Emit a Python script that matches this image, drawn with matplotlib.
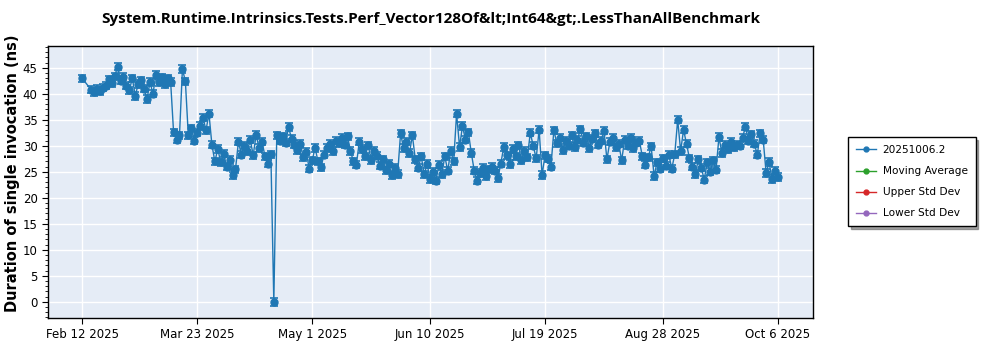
import matplotlib
matplotlib.use("Agg")
import matplotlib.pyplot as plt
from matplotlib.lines import Line2D
from matplotlib.ticker import MultipleLocator
import pandas as pd

title = "System.Runtime.Intrinsics.Tests.Perf_Vector128Of&lt;Int64&gt;.LessThanAllBenchmark"
y_label = "Duration of single invocation (ns)"
series_name = "20251006.2"
extra_series = ["Moving Average", "Upper Std Dev", "Lower Std Dev"]

start_date = "2025-02-12"
end_date = "2025-10-06"
missing_dates = ["2025-02-13", "2025-02-14"]

# one measurement per run day (ns)
durations = [
    43.0,
    40.8, 40.3, 41.0, 40.5, 41.2, 41.6, 42.8, 42.1, 43.4, 45.2,
    42.5, 43.3, 41.6, 40.7, 43.0, 39.6, 41.9, 42.6, 41.0, 39.0,
    42.3, 40.0, 43.6, 42.3, 43.2, 41.8, 43.0, 42.3,
    32.6, 31.2, 32.0, 44.8, 42.4,
    32.0, 33.4, 31.0, 32.5, 33.8, 35.4, 33.0, 36.2, 30.2, 27.0,
    29.4, 26.8, 28.5, 26.0, 27.3, 24.3, 25.5, 30.8, 28.3, 30.0,
    29.0, 31.2, 28.2, 32.1, 29.6, 30.8,
    28.0, 26.6, 28.4, 0.0,
    32.0, 31.0, 31.8, 30.6, 33.6, 31.4, 30.2,
    29.2, 30.4, 27.8, 28.9, 25.6, 27.2,
    29.6, 27.0, 25.9,
    28.3, 29.6, 30.4, 29.0, 31.0, 30.5, 31.6, 30.2, 31.8, 29.0,
    27.0, 26.4, 30.8, 29.4, 28.0, 30.1, 27.3, 29.0, 28.1,
    26.2, 27.4, 25.3, 26.6, 24.3, 25.8, 24.6,
    32.4, 29.6, 30.8, 28.6, 32.0,
    27.4, 25.8, 28.0, 24.5, 26.5, 23.6, 25.0, 23.3,
    26.4, 24.6, 28.0, 25.2, 29.0,
    27.0, 36.2, 29.8, 33.8, 31.2, 32.6, 28.6,
    25.2, 23.3, 24.8, 25.8, 24.2, 25.5, 26.0, 25.2, 23.8, 26.6,
    29.8, 28.2, 26.5, 29.4, 28.0, 30.1, 27.2, 29.0, 27.8,
    32.5, 30.0,
    27.6, 33.1, 24.4, 28.2, 27.5, 26.0,
    33.0,
    30.5, 31.6, 29.2, 31.0, 30.0, 32.0, 29.8, 31.2, 33.2, 30.6,
    31.8, 29.6, 31.4, 32.4, 30.2, 31.0, 32.9, 27.4,
    30.8, 31.6, 29.8, 30.4, 27.2, 31.2, 30.0, 31.5, 29.6, 30.6, 31.0,
    28.0, 26.4, 27.8, 29.9, 24.2, 26.8, 25.6, 27.6, 26.2, 28.3, 25.6,
    28.4, 35.0, 29.0, 33.1, 30.4, 27.6,
    26.0, 24.6, 27.4, 25.8, 23.5, 26.8, 25.0, 27.2,
    25.4, 31.7, 28.6, 30.2, 29.4, 30.8, 29.8, 30.2,
    30.0, 31.6, 33.7, 31.0, 32.2, 30.4, 28.3, 32.4,
    31.2, 24.8, 26.9, 23.6, 25.2, 24.0,
]
spread = 0.7

tick_dates = ["2025-02-12", "2025-03-23", "2025-05-01", "2025-06-10",
              "2025-07-19", "2025-08-28", "2025-10-06"]
tick_labels = ["Feb 12 2025", "Mar 23 2025", "May 1 2025", "Jun 10 2025",
               "Jul 19 2025", "Aug 28 2025", "Oct 6 2025"]

colors = {series_name: "#1f77b4", "Moving Average": "#2ca02c",
          "Upper Std Dev": "#d62728", "Lower Std Dev": "#9467bd"}

run_dates = pd.date_range(start_date, end_date, freq="D")
run_dates = run_dates[~run_dates.isin(pd.to_datetime(missing_dates))]
df = pd.DataFrame({"date": run_dates, "value": durations})

fig = plt.figure(figsize=(10, 3.5), dpi=100)
ax = fig.add_axes([0.048, 0.0914, 0.765, 0.7772])
ax.set_facecolor("#e5ecf6")

ax.errorbar(df["date"], df["value"], yerr=spread, color=colors[series_name],
            ecolor=colors[series_name], elinewidth=1.2, capsize=3,
            capthick=1.2, marker="o", markersize=5, linewidth=1.0,
            zorder=3)
for name in extra_series:
    ax.plot([], [], color=colors[name])

ax.set_ylim(-3.1, 49.2)
ax.set_xlim(pd.Timestamp(start_date) - pd.Timedelta(days=11.6),
            pd.Timestamp(end_date) + pd.Timedelta(days=11.9))
ax.yaxis.set_major_locator(MultipleLocator(5))
ax.yaxis.set_minor_locator(MultipleLocator(1))
ax.set_xticks(pd.to_datetime(tick_dates))
ax.set_xticklabels(tick_labels)
ax.tick_params(axis="both", labelsize=8.5, length=4, color="black")
ax.tick_params(axis="y", which="minor", length=2)
ax.grid(True, color="white", linewidth=1.0)
ax.set_axisbelow(True)
for s in ax.spines.values():
    s.set_color("black")
    s.set_linewidth(1.0)

ax.set_ylabel(y_label, fontsize=10.5, fontweight="bold")
ax.yaxis.set_label_coords(-0.036, 0.533)
fig.text(0.4305, 0.945, title, ha="center", va="center", fontsize=11,
         fontweight="bold", family="Open Sans")

handles = [Line2D([], [], color=colors[n], marker="o", markersize=3.5,
                  linewidth=1.0) for n in [series_name] + extra_series]
leg = fig.legend(handles, [series_name] + extra_series, loc="upper left",
                 bbox_to_anchor=(0.843, 0.623), fontsize=7.6, frameon=True,
                 fancybox=False, shadow=True, borderpad=0.75,
                 handlelength=1.9, handletextpad=0.6, labelspacing=1.05)
leg.get_frame().set_edgecolor("black")
leg.get_frame().set_linewidth(1.0)

fig.savefig("out.png", dpi=100)
